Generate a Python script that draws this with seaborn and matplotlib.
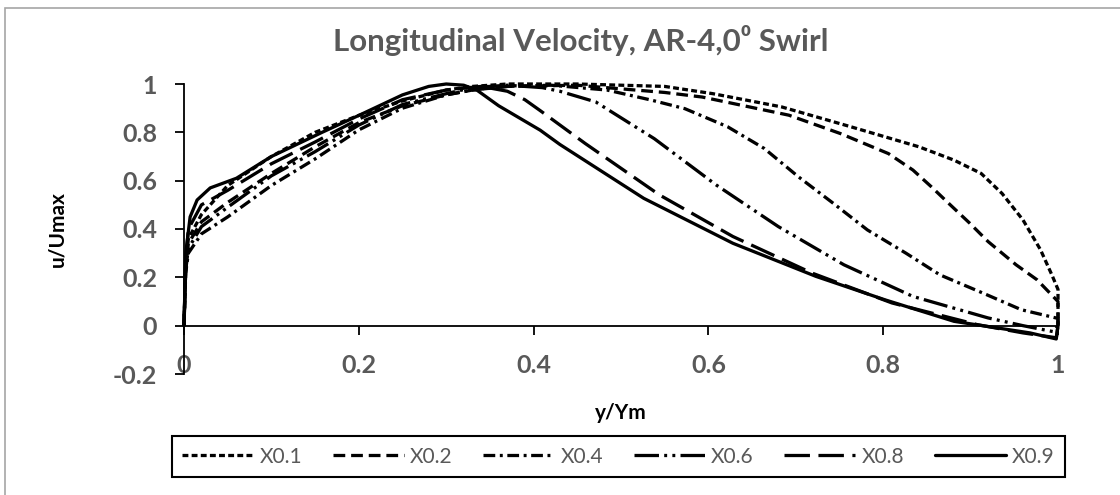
import numpy as np
import pandas as pd
import matplotlib
matplotlib.use("Agg")
import matplotlib.pyplot as plt
import seaborn as sns
from matplotlib.patches import Rectangle

# ---------------- data ----------------
x01 = [0, 0.002, 0.005, 0.02, 0.05, 0.1, 0.15, 0.2, 0.25, 0.3, 0.33, 0.37, 0.45, 0.55, 0.605,
       0.684, 0.763, 0.841, 0.881, 0.912, 0.936, 0.96, 0.98, 0.993, 1.0, 1.0]
y01 = [0, 0.26, 0.36, 0.46, 0.58, 0.70, 0.80, 0.87, 0.93, 0.975, 0.99, 1.0, 1.0, 0.99, 0.96,
       0.905, 0.823, 0.74, 0.685, 0.63, 0.547, 0.437, 0.314, 0.21, 0.15, 0]

x02 = [0, 0.002, 0.005, 0.02, 0.05, 0.1, 0.15, 0.2, 0.25, 0.3, 0.33, 0.37, 0.45, 0.5, 0.55,
       0.593, 0.692, 0.751, 0.806, 0.834, 0.855, 0.877, 0.899, 0.92, 0.952, 0.976, 1.0, 1.0]
y02 = [0, 0.24, 0.34, 0.43, 0.51, 0.63, 0.74, 0.84, 0.91, 0.955, 0.975, 0.99, 0.995, 0.98, 0.965,
       0.946, 0.871, 0.795, 0.712, 0.644, 0.575, 0.499, 0.424, 0.348, 0.252, 0.19, 0.1, 0]

x04 = [0, 0.002, 0.005, 0.02, 0.05, 0.1, 0.15, 0.2, 0.25, 0.3, 0.33, 0.37, 0.42, 0.484, 0.534,
       0.573, 0.622, 0.664, 0.703, 0.743, 0.782, 0.826, 0.865, 0.914, 0.958, 1.0, 1.0]
y04 = [0, 0.22, 0.30, 0.38, 0.45, 0.58, 0.69, 0.81, 0.90, 0.955, 0.975, 0.99, 0.995, 0.975, 0.934,
       0.898, 0.823, 0.733, 0.616, 0.506, 0.396, 0.30, 0.21, 0.135, 0.066, 0.03, 0]

x06 = [0, 0.002, 0.005, 0.02, 0.05, 0.1, 0.15, 0.2, 0.25, 0.3, 0.33, 0.37, 0.41, 0.43, 0.471,
       0.538, 0.609, 0.68, 0.755, 0.834, 0.92, 0.96, 0.995, 1.0]
y06 = [0, 0.23, 0.32, 0.41, 0.49, 0.62, 0.72, 0.83, 0.915, 0.96, 0.985, 0.995, 0.985, 0.97, 0.926,
       0.774, 0.582, 0.41, 0.252, 0.121, 0.032, 0.0, -0.025, 0]

x08 = [0, 0.002, 0.005, 0.02, 0.05, 0.1, 0.15, 0.2, 0.25, 0.3, 0.34, 0.37, 0.39, 0.4075, 0.459,
       0.544, 0.628, 0.719, 0.81, 0.908, 0.96, 0.998, 1.0]
y08 = [0, 0.27, 0.40, 0.50, 0.56, 0.67, 0.76, 0.855, 0.935, 0.975, 0.99, 0.97, 0.935, 0.89, 0.754,
       0.541, 0.369, 0.217, 0.094, 0.004, -0.03, -0.05, 0]

x09 = [0, 0.002, 0.007, 0.015, 0.03, 0.06, 0.1, 0.158, 0.2, 0.25, 0.28, 0.3, 0.32, 0.335, 0.36,
       0.4075, 0.43, 0.526, 0.628, 0.723, 0.802, 0.881, 0.968, 0.998, 1.0]
y09 = [0, 0.30, 0.45, 0.52, 0.57, 0.61, 0.70, 0.80, 0.87, 0.955, 0.99, 1.0, 0.995, 0.975, 0.91,
       0.809, 0.75, 0.527, 0.341, 0.204, 0.107, 0.018, -0.03, -0.055, 0]

series_names = ["X0.1", "X0.2", "X0.4", "X0.6", "X0.8", "X0.9"]
series_x = [x01, x02, x04, x06, x08, x09]
series_y = [y01, y02, y04, y06, y08, y09]

x_ticks = [0, 0.2, 0.4, 0.6, 0.8, 1.0]
x_tick_labels = ["0", "0.2", "0.4", "0.6", "0.8", "1"]
y_ticks = [-0.2, 0, 0.2, 0.4, 0.6, 0.8, 1.0]
y_tick_labels = ["-0.2", "0", "0.2", "0.4", "0.6", "0.8", "1"]

title = "Longitudinal Velocity, AR-4,0\u2070 Swirl"
xlabel = "y/Ym"
ylabel = "u/Umax"

# ---------------- styling ----------------
sns.set_theme(style="white")
plt.rcParams["font.family"] = ["Lato", "DejaVu Sans"]

GRAY = "#595959"
W, H = 1120, 495
fig = plt.figure(figsize=(W / 100, H / 100), dpi=100)
fig.patch.set_facecolor("white")

ax = fig.add_axes([184 / W, 1 - 374 / H, (1058 - 184) / W, (374 - 84) / H])
ax.set_facecolor("white")

rows = []
for name, xs, ys in zip(series_names, series_x, series_y):
    for i, (xv, yv) in enumerate(zip(xs, ys)):
        rows.append({"series": name, "order": i, "x": xv, "y": yv})
df = pd.DataFrame(rows)

dash_map = {
    "X0.1": (1.8, 1.0),
    "X0.2": (3.6, 1.8),
    "X0.4": (3.6, 1.4, 0.9, 1.4),
    "X0.6": (7.5, 1.6, 0.9, 1.6, 0.9, 1.6),
    "X0.8": (7.8, 2.6),
    "X0.9": "",
}
sns.lineplot(data=df, x="x", y="y", hue="series", style="series",
             hue_order=series_names, style_order=series_names,
             palette=["black"] * 6, dashes=dash_map, sort=False, estimator=None,
             linewidth=2.35, legend=False, ax=ax)
for ln in ax.lines:
    ln.set_clip_on(False)
    ln.set_solid_joinstyle("round")

ax.set_xlim(0, 1)
ax.set_ylim(-0.2, 1.0)
ax.set_xticks(x_ticks)
ax.set_xticklabels(x_tick_labels)
ax.set_yticks(y_ticks)
ax.set_yticklabels(y_tick_labels)
ax.set_xlabel("")
ax.set_ylabel("")

for s in ["top", "right"]:
    ax.spines[s].set_visible(False)
ax.spines["bottom"].set_position(("data", 0))
for s in ["bottom", "left"]:
    ax.spines[s].set_color("black")
    ax.spines[s].set_linewidth(1.3)
    ax.spines[s].set_zorder(1)

ax.tick_params(axis="both", which="major", direction="out", length=6.5, width=1.3,
               color="black", labelcolor=GRAY, labelsize=18)
ax.tick_params(axis="y", pad=13, left=True)
ax.tick_params(axis="x", pad=14, bottom=True)
for lab in ax.get_xticklabels() + ax.get_yticklabels():
    lab.set_fontweight("bold")

# titles & axis labels
fig.text(581 / W, 1 - 40 / H, title, ha="center", va="center", fontsize=22.5,
         fontweight="bold", color=GRAY)
fig.text(621 / W, 1 - 413 / H, xlabel, ha="center", va="center", fontsize=15,
         fontweight="bold", color="black")
fig.text(57 / W, 1 - 229 / H, ylabel, ha="center", va="center", rotation=90,
         fontsize=15, fontweight="bold", color="black")

# legend
handles = ax.lines[:6]
leg = fig.legend(handles, series_names, loc="lower left",
                 bbox_to_anchor=(172 / W, 1 - 477 / H, (1065 - 172) / W, 44 / H),
                 mode="expand", ncol=6, frameon=True, fancybox=False,
                 edgecolor="black", framealpha=1, borderaxespad=0,
                 handlelength=3.4, handletextpad=0.3, borderpad=0.5,
                 fontsize=15, labelcolor=GRAY)
leg.get_frame().set_linewidth(1.5)

# outer chart border
fig.patches.append(Rectangle((5 / W, -0.5), 2.0, 1.5 - 8 / H, transform=fig.transFigure,
                             fill=False, edgecolor="#a6a6a6", linewidth=1.2))

fig.savefig("out.png", dpi=100, facecolor="white")
